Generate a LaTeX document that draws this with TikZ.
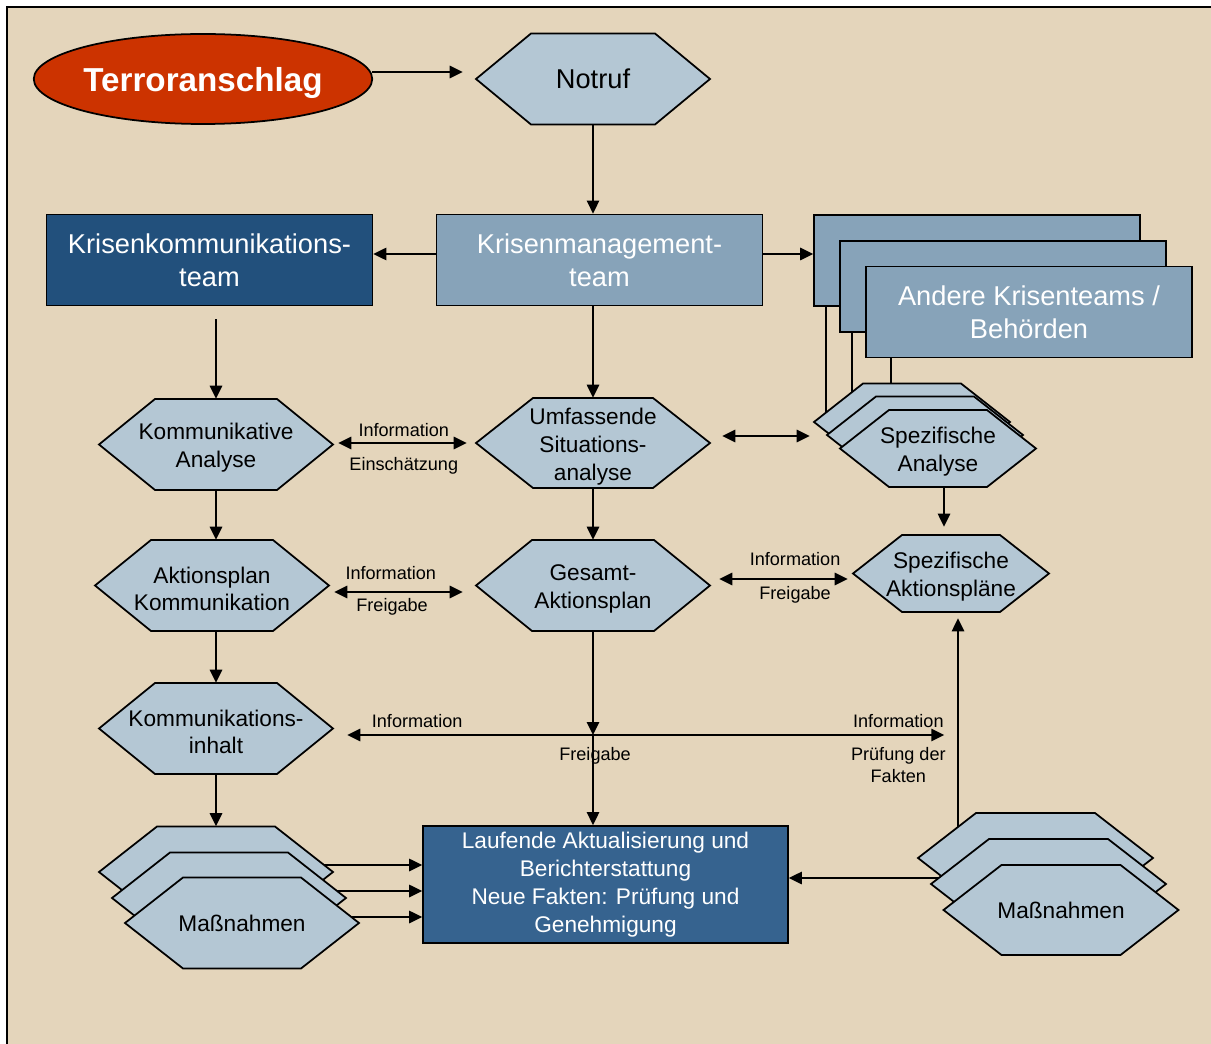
\documentclass[tikz,border=0pt]{standalone}
\usepackage{fontspec}
\setmainfont{Liberation Sans}
\usetikzlibrary{shapes.geometric,calc,arrows.meta}

\pgfdeclarelayer{back}
\pgfdeclarelayer{wires}
\pgfsetlayers{back,wires,main}

\definecolor{paper}{HTML}{E4D5BB}
\definecolor{hexblue}{HTML}{B4C7D4}
\definecolor{steel}{HTML}{87A3B9}
\definecolor{navy}{HTML}{22507C}
\definecolor{midblue}{HTML}{36638F}
\definecolor{alarm}{HTML}{CC3300}

\newcommand\hexfont{\fontsize{12.9pt}{15.8pt}\selectfont}
\newcommand\boxfont{\fontsize{15.5pt}{18.7pt}\selectfont}
\newcommand\lblfont{\fontsize{10.3pt}{12.5pt}\selectfont}
\newcommand\alarmfont{\fontsize{18.9pt}{22pt}\selectfont\bfseries}

\tikzset{
  hexshape/.style={draw=black, line width=1pt, fill=hexblue, line join=miter},
  hexanchor/.style={inner sep=0pt},
  hexlabel/.style={inner sep=0pt, align=center, font=\hexfont, text=black},
  twoline/.style={yshift=-2pt},
  boxnode/.style={draw=black, line width=1pt, inner sep=0pt, align=center,
    font=\boxfont, text=white, minimum width=6.52cm, minimum height=1.82cm},
  wire/.style={line width=1.1pt},
  tip/.tip={Triangle[length=7.4pt,width=7pt]},
  arr/.style={wire, -tip},
  darr/.style={wire, tip-tip},
  lbl/.style={font=\lblfont, inner sep=0pt, align=center},
}

% hexagon: [text options], name, x, y, half width, half height, inset, text
\newcommand\hexat[8][]{%
  \draw[hexshape] (#3-#5,#4) -- (#3-#5+#7,#4-#6) -- (#3+#5-#7,#4-#6)
    -- (#3+#5,#4) -- (#3+#5-#7,#4+#6) -- (#3-#5+#7,#4+#6) -- cycle;
  \node[hexanchor, minimum width=#5*0.04cm, minimum height=#6*0.04cm] (#2) at (#3,#4) {};
  \node[hexlabel, #1] (#2-text) at (#2.center) {#8};
}

\begin{document}
\begin{tikzpicture}[x=0.02cm, y=-0.02cm]
\useasboundingbox (0,0) rectangle (1211,1044);

% page frame
\begin{pgfonlayer}{back}
  \fill[white] (0,0) rectangle (1211,1044);
  \fill[paper] (7,7) rectangle (1211,1044);
  \draw[line width=1.2pt] (7,1044) -- (7,7) -- (1211,7);
\end{pgfonlayer}

% trigger and emergency call
\node[ellipse, draw=black, line width=1pt, fill=alarm, text=white, font=\alarmfont,
  inner sep=0pt, minimum width=6.76cm, minimum height=1.8cm, text depth=0pt] (terror) at (203,79) {Terroranschlag};
\hexat[font=\boxfont]{notruf}{593}{79}{117}{45.5}{55}{Notruf}

% teams
\node[boxnode, fill=navy] (kk) at (209.5,260) {Krisenkommunikations-\\team};
\node[boxnode, fill=steel] (km) at (599.5,260) {Krisenmanagement-\\team};
\node[boxnode, fill=steel] (aK1) at (977,260.5) {};
\node[boxnode, fill=steel] (aK2) at (1003,286.5) {};
\node[boxnode, fill=steel] (aK3) at (1029,312) {Andere Krisenteams /\\Behörden};

% analysis row
\hexat[twoline]{kan}{216}{444.5}{117}{45.5}{56}{Kommunikative\\Analyse}
\hexat[twoline]{usa}{593}{443}{117}{45}{57}{Umfassende\\Situations-\\analyse}
\hexat{sA1}{912}{422}{98}{38.5}{49}{}
\hexat{sA2}{925}{435}{98}{38.5}{49}{}
\hexat[twoline]{sA3}{938}{448.5}{98}{38.5}{49}{Spezifische\\Analyse}

% action plan row
\hexat[twoline]{akp}{212}{585.5}{117}{45.5}{56}{Aktionsplan\\Kommunikation}
\hexat[twoline]{ges}{593}{585.5}{117}{45.5}{56}{Gesamt-\\Aktionsplan}
\hexat[twoline]{sap}{951}{573.5}{98}{38.5}{49}{Spezifische\\Aktionspläne}

% content
\hexat[twoline]{kin}{216}{728.5}{117}{45.5}{56}{Kommunikations-\\inhalt}

% measures
\hexat{mL1}{216}{872}{117}{45.5}{58}{}
\hexat{mL2}{229}{898}{117}{45.5}{58}{}
\hexat{mL3}{242}{923}{117}{45.5}{58}{Maßnahmen}
\hexat{mR1}{1035.5}{858}{117.5}{45}{58}{}
\hexat{mR2}{1048.5}{884}{117.5}{45}{58}{}
\hexat{mR3}{1061}{910}{117.5}{45}{58}{Maßnahmen}

% reporting
\node[boxnode, fill=midblue, font=\hexfont, minimum width=7.3cm, minimum height=2.34cm]
  (lauf) at (605.5,884.5) {Laufende Aktualisierung und\\Berichterstattung\\Neue Fakten: Prüfung und\\Genehmigung};

% connectors
\begin{pgfonlayer}{wires}
  \coordinate (t0) at ($(terror.east)+(-1,-7)$);
  \draw[arr] (t0) -- ($(t0 -| notruf.west)+(-13,0)$);

  \draw[arr] (notruf.south) -- (notruf.south |- km.north);
  \coordinate (km0) at ($(km.west)+(0,-6)$);
  \draw[arr] (km0) -- (km0 -| kk.east);
  \coordinate (km1) at ($(km.east)+(0,-6)$);
  \draw[arr] (km1) -- (km1 -| aK1.west);
  \draw[arr] (usa.north |- km.south) -- (usa.north);

  % other teams down to their analyses
  \draw[wire] ($(aK1.south west)+(13,0)$) -- ++(0,120);
  \draw[wire] ($(aK2.south west)+(13,0)$) -- ++(0,100);
  \draw[wire] ($(aK3.south west)+(26,0)$) -- ++(0,60);

  % left column
  \coordinate (kk0) at ($(kan.north |- kk.south)+(0,13)$);
  \draw[arr] (kk0) -- (kan.north);
  \draw[arr] (kan.south) -- (kan.south |- akp.north);
  \draw[arr] (kin.north |- akp.south) -- (kin.north);
  \draw[arr] (kin.south) -- (mL1.north);

  % centre column
  \draw[arr] (usa.south) -- (ges.north);

  % exchanges between the columns
  \coordinate (x1) at ($(kan.east)+(5,-1.5)$);
  \draw[darr] (x1) -- ($(x1 -| usa.west)+(-9,0)$)
    node[lbl, pos=0.51, anchor=base, yshift=3.7pt] {Information}
    node[lbl, pos=0.51, anchor=base, yshift=-15.6pt] {Einschätzung};
  \coordinate (x2) at ($(usa.east)+(12,-7)$);
  \draw[darr] (x2) -- ($(x2 -| sA1.west)+(-4,0)$);
  \coordinate (x3) at ($(akp.east)+(5,6.5)$);
  \draw[darr] (x3) -- ($(x3 -| ges.west)+(-13,0)$)
    node[lbl, pos=0.44, anchor=base, yshift=7.3pt] {Information}
    node[lbl, pos=0.45, anchor=base, yshift=-11pt] {Freigabe};
  \coordinate (x4) at ($(ges.east)+(9,-6.5)$);
  \draw[darr] (x4) -- ($(x4 -| sap.west)+(-5,0)$)
    node[lbl, pos=0.59, anchor=base, yshift=7.5pt] {Information}
    node[lbl, pos=0.59, anchor=base, yshift=-11.7pt] {Freigabe};

  \coordinate (sa0) at ($(sA3.south)+(6,0)$);
  \draw[arr] (sa0) -- ($(sa0 |- sap.north)+(0,-8)$);

  % information line towards the reporting
  \coordinate (lng) at ($(kin.east)+(14,6.5)$);
  \coordinate (lngR) at ($(lng)+(597,0)$);
  \draw[darr] (lng) -- (lngR)
    node[lbl, pos=0.117, anchor=base, yshift=4.5pt] {Information}
    node[lbl, pos=0.923, anchor=base, yshift=4.5pt] {Information}
    node[lbl, pos=0.415, anchor=base, yshift=-14.7pt] {Freigabe}
    node[lbl, pos=0.923, anchor=north, yshift=-6.5pt] {Prüfung der\\Fakten};
  \draw[arr] (ges.south) -- (ges.south |- lng);
  \draw[arr] (ges.south |- lng) -- (ges.south |- lauf.north);

  % measures feeding the reporting
  \coordinate (m1) at ($(mL1.center)+(0,-7)$);
  \coordinate (m2) at ($(mL2.center)+(0,-7)$);
  \coordinate (m3) at ($(mL3.center)+(0,-6)$);
  \draw[arr] (m1) -- (m1 -| lauf.west);
  \draw[arr] (m2) -- (m2 -| lauf.west);
  \draw[arr] (m3) -- (m3 -| lauf.west);
  \coordinate (mRh) at ($(mR1.center)+(-20,20)$);
  \draw[arr] (mRh) -- (mRh -| lauf.east);
  \coordinate (mRv) at ($(mR1.center)+(-77.5,0)$);
  \draw[arr] (mRv) -- ($(mRv |- sap.south)+(0,6)$);
\end{pgfonlayer}
\end{tikzpicture}
\end{document}
